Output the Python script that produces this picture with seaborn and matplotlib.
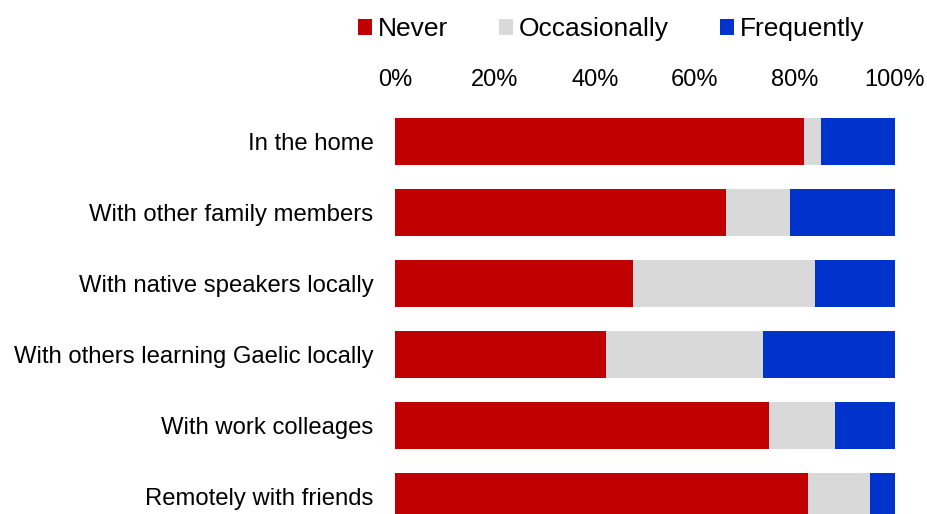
import matplotlib
matplotlib.use("Agg")
import matplotlib.pyplot as plt
from matplotlib.patches import Patch
import seaborn as sns
import pandas as pd
import numpy as np

categories = ["In the home", "With other family members", "With native speakers locally",
              "With others learning Gaelic locally", "With work colleages", "Remotely with friends"]
never = [81.7, 66.2, 47.5, 42.2, 74.7, 82.5]
occasionally = [3.5, 12.8, 36.4, 31.4, 13.3, 12.4]
frequently = [14.8, 21.0, 16.1, 26.4, 12.0, 5.1]
series_names = ["Never", "Occasionally", "Frequently"]
colors = ["#C00000", "#D9D9D9", "#0033CC"]

sns.set_theme(style="white")
plt.rcParams['font.family'] = ['Liberation Sans', 'DejaVu Sans']
plt.rcParams['text.color'] = '#000000'

fig = plt.figure(figsize=(9.28, 5.14), dpi=100)
ax = fig.add_axes([395/928, 1 - 532/514, 500/928, 426/514])

c1 = np.array(never)
c2 = c1 + np.array(occasionally)
c3 = c2 + np.array(frequently)
df = pd.DataFrame({"cat": categories, "n": c1, "o": c2, "f": c3})

for col, colr in zip(["f", "o", "n"], colors[::-1]):
    sns.barplot(data=df, x=col, y="cat", color=colr, orient="h", width=0.66,
                ax=ax, saturation=1, linewidth=0)

ax.set_xlim(0, 100)
ax.set_ylim(5.5, -0.5)
ax.xaxis.tick_top()
ax.set_xticks([0, 20, 40, 60, 80, 100])
ax.set_xticklabels(["0%", "20%", "40%", "60%", "80%", "100%"])
ax.tick_params(axis="x", labelsize=17, pad=10.5, length=0, colors="#000000")
ax.tick_params(axis="y", labelsize=17.2, pad=15.5, length=0, colors="#000000")
ax.set_xlabel("")
ax.set_ylabel("")
for s in ax.spines.values():
    s.set_visible(False)
ax.grid(False)

handles = [Patch(facecolor=c, edgecolor="none") for c in colors]
fig.legend(handles, series_names, loc="center", bbox_to_anchor=(611/928, 1 - 29/514),
           ncol=3, frameon=False, fontsize=19, handlelength=0.55, handleheight=0.55,
           handletextpad=0.2, columnspacing=1.93, borderpad=0, borderaxespad=0,
           labelcolor="#000000")

fig.savefig("out.png", dpi=100)
